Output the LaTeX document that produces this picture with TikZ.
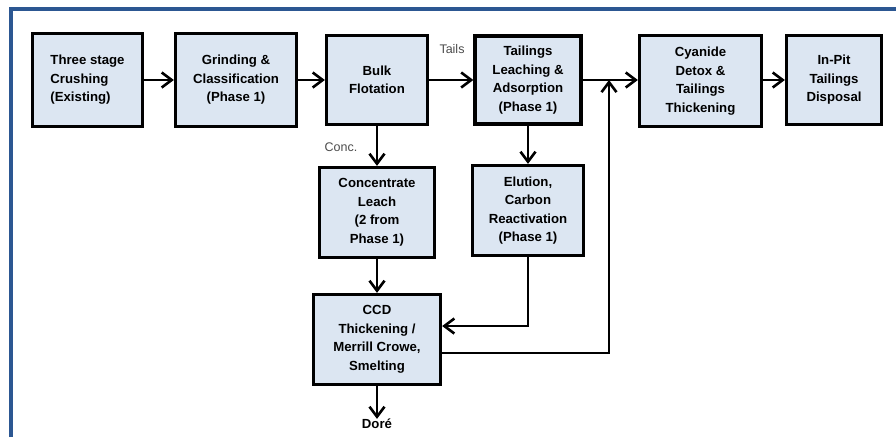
\documentclass[tikz,border=0pt]{standalone}
\usepackage{fontspec}
\setmainfont{Liberation Sans}
\usetikzlibrary{arrows.meta,calc}
\definecolor{boxfill}{RGB}{220,230,242}
\definecolor{frameblue}{RGB}{44,87,146}
\begin{document}
\begin{tikzpicture}[x=1pt,y=-1pt,
  proc/.style={draw=black,line width=3.3pt,fill=boxfill,align=center,inner sep=0pt,
    font=\fontsize{13.2}{18.5}\selectfont\bfseries},
  arr/.style={line width=2pt,-{Straight Barb[length=10pt,width=15pt,line width=2.6pt]}},
  lbl/.style={font=\fontsize{12.5}{15}\selectfont,text=black!70,inner sep=0pt}]
\useasboundingbox (0,0) rectangle (896,437);
\draw[frameblue,line width=4pt] (10.5,437) -- (10.5,9) -- (896,9);

\node[proc,align=left,minimum width=110pt,minimum height=93pt] (b1) at (87.5,80) {Three stage\\Crushing\\(Existing)};
\node[proc,minimum width=121pt,minimum height=93pt] (b2) at (236,80) {Grinding \&\\Classification\\(Phase 1)};
\node[proc,minimum width=101pt,minimum height=89pt] (b3) at (377,80) {Bulk\\Flotation};
\node[proc,minimum width=106pt,minimum height=88pt] (b4) at (528,80) {Tailings\\Leaching \&\\Adsorption\\(Phase 1)};
\node[proc,minimum width=122pt,minimum height=91pt] (b5) at (700.5,81) {Cyanide\\Detox \&\\Tailings\\Thickening};
\node[proc,minimum width=95pt,minimum height=89pt] (b6) at (834,80) {In-Pit\\Tailings\\Disposal};
\node[proc,minimum width=115pt,minimum height=90pt] (cl) at (377,212.5) {Concentrate\\Leach\\(2 from\\Phase 1)};
\node[proc,minimum width=111pt,minimum height=90pt] (el) at (528,210.5) {Elution,\\Carbon\\Reactivation\\(Phase 1)};
\node[proc,minimum width=127pt,minimum height=90pt] (ccd) at (377,339.5) {CCD\\Thickening /\\Merrill Crowe,\\Smelting};

\node[font=\fontsize{13.2}{15}\selectfont\bfseries,inner sep=0pt] (dore) at (377,424) {Doré};
\node[lbl] (tails) at (452,49) {Tails};
\node[lbl] (conc) at (341,147) {Conc.};

\coordinate (j1) at (0,326);
\coordinate (j2) at (0,353);
\coordinate (jtop) at (609,80);

\draw[arr] (b1.east) -- (b2.west);
\draw[arr] (b2.east) -- (b3.west);
\draw[arr] (b3.east) -- (b4.west);
\draw[arr] (b4.east |- jtop) -- (b5.west |- jtop);
\draw[arr] (b5.east |- jtop) -- (b6.west |- jtop);
\draw[arr] (b3.south) -- (cl.north);
\draw[arr] (b4.south) -- (el.north);
\draw[arr] (cl.south) -- (ccd.north);
\draw[arr] (el.south) |- (ccd.east |- j1);
\draw[arr] (ccd.east |- j2) -| (jtop);
\draw[arr] (ccd.south) -- (dore.north);
\end{tikzpicture}
\end{document}
